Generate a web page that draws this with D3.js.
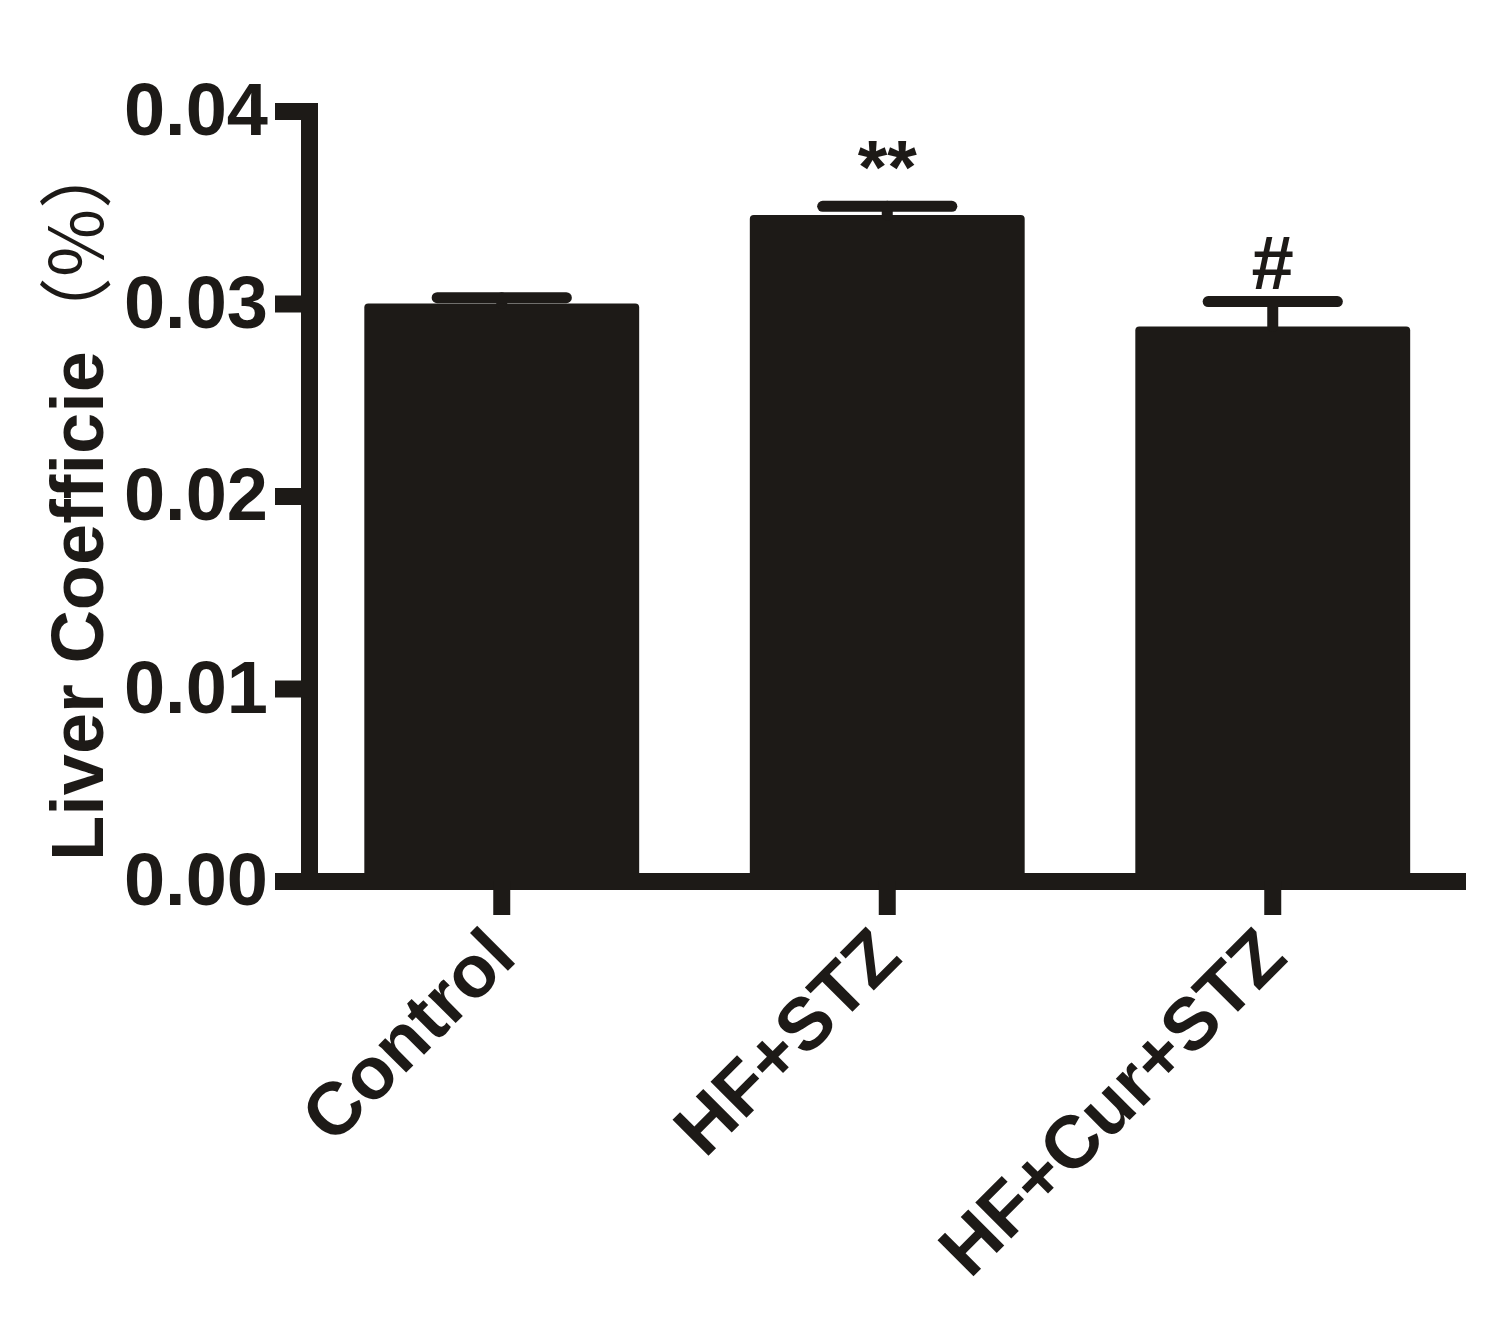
<!DOCTYPE html>
<html>
<head>
<meta charset="utf-8">
<script src="https://cdn.jsdelivr.net/npm/d3@7/dist/d3.min.js"></script>
<style>
  html, body { margin: 0; padding: 0; background: #ffffff; }
  svg { display: block; }
  text { font-family: "Liberation Sans", Arial, Helvetica, sans-serif; font-weight: bold; fill: #1d1a17; }
</style>
</head>
<body>
<svg id="chart" width="1509" height="1320"></svg>
<script>
// ---- data ----
const categories = ["Control", "HF+STZ", "HF+Cur+STZ"];
const means = [0.0300, 0.0346, 0.0288];
const sems = [0.0003, 0.00045, 0.0013];
const annotations = ["", "**", "#"];
const yTicks = [0, 0.01, 0.02, 0.03, 0.04];
const yTitle = "Liver Coefficie";
const yTitleUnit = "（%）";

// ---- layout ----
const ink = "#1d1a17";
const axisW = 17;
const svg = d3.select("#chart");

const x = d3.scaleBand()
  .domain(categories)
  .range([309, 1465.5])
  .paddingInner(0.287)
  .paddingOuter(0.1435);

const y = d3.scaleLinear()
  .domain([0, 0.04])
  .range([881, 111]);

const data = categories.map((c, i) => ({ cat: c, mean: means[i], sem: sems[i], note: annotations[i] }));

// bars
svg.append("g").selectAll("rect")
  .data(data)
  .join("rect")
  .attr("x", d => x(d.cat))
  .attr("y", d => y(d.mean))
  .attr("width", x.bandwidth())
  .attr("height", d => y(0) - y(d.mean))
  .attr("rx", 4)
  .attr("fill", ink);

// error bars (upper only)
const eb = svg.append("g")
  .attr("stroke", ink)
  .attr("stroke-width", 11)
  .attr("stroke-linecap", "round");
eb.selectAll("line.stem")
  .data(data)
  .join("line")
  .attr("class", "stem")
  .attr("x1", d => x(d.cat) + x.bandwidth() / 2)
  .attr("x2", d => x(d.cat) + x.bandwidth() / 2)
  .attr("y1", d => y(d.mean))
  .attr("y2", d => y(d.mean + d.sem));
eb.selectAll("line.cap")
  .data(data)
  .join("line")
  .attr("class", "cap")
  .attr("x1", d => x(d.cat) + x.bandwidth() / 2 - x.bandwidth() * 0.235)
  .attr("x2", d => x(d.cat) + x.bandwidth() / 2 + x.bandwidth() * 0.235)
  .attr("y1", d => y(d.mean + d.sem))
  .attr("y2", d => y(d.mean + d.sem));

// significance marks
svg.append("g").selectAll("text")
  .data(data.filter(d => d.note))
  .join("text")
  .attr("x", d => x(d.cat) + x.bandwidth() / 2)
  .attr("y", d => y(d.mean + d.sem) - 13)
  .attr("text-anchor", "middle")
  .attr("font-size", 76)
  .text(d => d.note);

// x axis
const gx = svg.append("g")
  .attr("transform", `translate(0,${y(0)})`)
  .call(d3.axisBottom(x).tickSize(34).tickSizeOuter(0));
gx.select(".domain").attr("stroke", ink).attr("stroke-width", axisW).attr("stroke-linecap", "butt");
gx.selectAll(".tick line").attr("stroke", ink).attr("stroke-width", axisW);
gx.selectAll(".tick text")
  .attr("x", 0).attr("y", 0).attr("dy", 0)
  .attr("transform", "translate(17,79) rotate(-45)")
  .attr("text-anchor", "end")
  .attr("font-size", 74)
  .attr("font-family", null)
  .attr("fill", ink);

// y axis
const gy = svg.append("g")
  .attr("transform", `translate(${x.range()[0]},0)`)
  .call(d3.axisLeft(y).tickValues(yTicks).tickFormat(d3.format(".2f")).tickSize(34).tickPadding(7).tickSizeOuter(0));
gy.select(".domain").attr("stroke", ink).attr("stroke-width", axisW).attr("stroke-linecap", "square");
gy.selectAll(".tick line").attr("stroke", ink).attr("stroke-width", axisW);
gy.selectAll(".tick text")
  .attr("font-size", 74)
  .attr("font-family", null)
  .attr("fill", ink);
gy.attr("font-family", null).attr("font-size", null);
gx.attr("font-family", null).attr("font-size", null);

// y title
const t = svg.append("text")
  .attr("transform", "translate(103,861) rotate(-90)")
  .attr("text-anchor", "start")
  .attr("font-size", 74);
t.append("tspan").text(yTitle);
t.append("tspan")
  .attr("font-family", "'Noto Sans CJK SC', 'Noto Sans CJK JP', sans-serif")
  .attr("font-weight", "normal")
  .text(yTitleUnit);
</script>
</body>
</html>
